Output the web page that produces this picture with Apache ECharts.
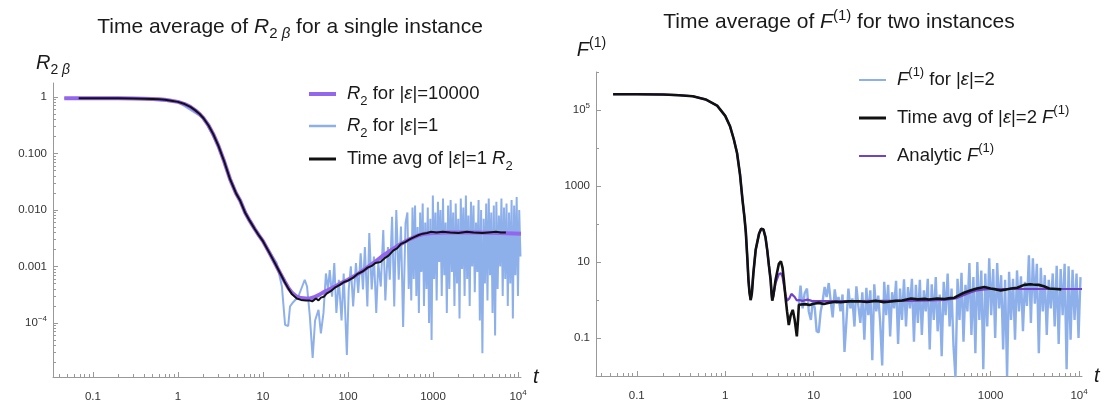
<!DOCTYPE html>
<html><head><meta charset="utf-8">
<script src="https://cdn.jsdelivr.net/npm/echarts@6/dist/echarts.min.js"></script>
<style>html,body{margin:0;padding:0;background:#fff}#c{width:1110px;height:406px}</style>
</head><body><div id="c"></div>
<script>
// ---------- tick labels ----------
const xMajorTicks = [0.1, 1, 10, 100, 1000, 10000];
const xMajorLabels = ['0.1', '1', '10', '100', '1000', '10{sup|4}'];
const leftYMajorTicks = [0.0001, 0.001, 0.01, 0.1, 1];
const leftYMajorLabels = ['10{sup|−4}', '0.001', '0.010', '0.100', '1'];
const rightYMajorTicks = [0.1, 10, 1000, 100000];
const rightYMajorLabels = ['0.1', '10', '1000', '10{sup|5}'];
const rightYMinorTicks = [1, 100, 10000, 1000000];

// ---------- left panel: R2 ----------
const r2Eps10000 = [[0.046,0.95],[0.1,0.95],[0.2,0.947],[0.3,0.942],[0.4,0.935],[0.5,0.925],[0.6,0.91],[0.7,0.89],[0.8,0.87],[1.0,0.82],[1.2,0.75],[1.4,0.67],[1.6,0.58],[1.8,0.5],[2.0,0.42],[2.3,0.31],[2.6,0.22],[3.0,0.135],[3.5,0.072],[4.1,0.035],[4.8,0.02],[5.4,0.0145],[6.2,0.0088],[7.0,0.0064],[8.0,0.0046],[9.0,0.0035],[10,0.0028],[12,0.0017],[14,0.0011],[16,0.00075],[18,0.00054],[20,0.00041],[22,0.00034],[25,0.00029],[28,0.000275],[32,0.00027],[36,0.00027],[40,0.000285],[45,0.00031],[50,0.00034],[60,0.00039],[70,0.00044],[80,0.00049],[100,0.00058],[130,0.00073],[160,0.0009],[200,0.00115],[250,0.0015],[300,0.0018],[400,0.0024],[500,0.0029],[600,0.0033],[700,0.0036],[800,0.0038],[1000,0.0039],[1500,0.004],[3000,0.004],[6000,0.0039],[10840,0.0038]];

const r2Eps1 = [[0.046,0.95],[0.3,0.942],[1.0,0.82],[2.0,0.42],[3.0,0.135],[4.1,0.035],[5.4,0.0145],[7.0,0.0064],[9.0,0.0035],[11,0.0022],[12.6,0.0016],[14.5,0.00115],[16.7,0.00044],[18.2,0.000092],[19.8,0.000088],[20.8,0.000195],[22.5,0.00023],[26,0.00029],[31,0.00058],[33,0.00044],[35.6,0.00013],[38.4,0.000024],[41,0.00011],[45,0.00017],[48,0.000065],[51.5,0.00015],[55,0.00075],[58.2,0.00039],[61,0.00086],[65,0.00029],[69,0.00115],[73,0.00015],[78,0.00058],[84,0.00011],[89,0.00075],[97,0.000027],[102,0.00039],[108,0.001],[115,0.000195],[124,0.00115],[132,0.00034],[141,0.0017],[150,0.00039],[158,0.0022],[169,0.000195],[178,0.0039],[190,0.00039],[202,0.0015],[215,0.00015],[227,0.00115],[243,0.00044],[260,0.0044],[275,0.00025],[295,0.0022],[310,0.00058],[330,0.0076],[350,0.000195],[370,0.01],[395,0.00058],[420,0.0051],[445,0.000085],[475,0.0058],
[500,0.009],[518,0.0004],[536,0.003],[555,0.00025],[574,0.011],[594,0.0006],[615,0.012],[637,0.0003],[659,0.005],[682,0.00015],[706,0.009],[731,0.0008],[756,0.013],[783,0.0002],[810,0.006],[839,0.0004],[868,0.011],[898,0.0001],[930,0.007],[962,0.00005],[996,0.018],[1031,0.0006],[1067,0.009],[1104,0.00025],[1143,0.014],[1183,0.0012],[1224,0.01],[1267,0.0003],[1311,0.016],[1357,0.0007],[1405,0.006],[1454,0.00015],[1505,0.012],[1557,0.0004],[1612,0.015],[1668,0.0008],[1727,0.009],[1787,0.0002],[1850,0.013],[1914,0.0005],[1981,0.007],[2051,0.00012],[2122,0.016],[2197,0.0009],[2274,0.011],[2353,0.0003],[2436,0.018],[2521,0.0006],[2609,0.008],[2700,0.0002],[2795,0.014],[2893,0.001],[2994,0.012],[3099,0.00035],[3207,0.006],[3319,0.0008],[3436,0.015],[3556,0.00011],[3680,0.01],[3809,0.000029],[3942,0.007],[4080,0.0005],[4223,0.013],[4371,0.00025],[4524,0.016],[4682,0.0007],[4846,0.009],[5016,0.00015],[5191,0.012],[5373,0.00006],[5561,0.014],[5755,0.0004],[5957,0.008],[6165,0.001],[6381,0.016],[6604,0.0003],[6835,0.011],[7074,0.0006],[7322,0.013],[7578,0.0002],[7843,0.009],[8118,0.0005],[8402,0.015],[8696,0.00012],[9000,0.012],[9315,0.0007],[9641,0.017],[9979,0.0003],[10328,0.01],[10690,0.0015]];

const r2TimeAvg = [[0.068,0.95],[0.1,0.95],[0.2,0.947],[0.3,0.942],[0.4,0.935],[0.5,0.925],[0.6,0.91],[0.7,0.89],[0.8,0.87],[1.0,0.82],[1.2,0.75],[1.4,0.67],[1.6,0.58],[1.8,0.5],[2.0,0.42],[2.3,0.31],[2.6,0.22],[3.0,0.135],[3.5,0.072],[4.1,0.035],[4.8,0.02],[5.4,0.0145],[6.2,0.0088],[7.0,0.0064],[8.0,0.0046],[9.0,0.0035],[10,0.0028],[12,0.0017],[14,0.0011],[16,0.00075],[18,0.00053],[20,0.0004],[22,0.00032],[25,0.00027],[28,0.000255],[32,0.00025],[35,0.00025],[38,0.00024],[42,0.00027],[45,0.00025],[48,0.00028],[52,0.00029],[56,0.00033],[62,0.00036],[70,0.00042],[80,0.00047],[90,0.00053],[100,0.00056],[115,0.00063],[130,0.00074],[150,0.00082],[170,0.00095],[190,0.00102],[210,0.00115],[240,0.0012],[270,0.0014],[300,0.00155],[340,0.0019],[380,0.0021],[420,0.0025],[470,0.0027],[530,0.003],[600,0.0033],[680,0.0036],[760,0.0038],[850,0.0039],[950,0.0041],[1100,0.004],[1300,0.0041],[1600,0.0040],[2000,0.0039],[2500,0.0041],[3000,0.004],[3800,0.0039],[4500,0.004],[5500,0.0041],[6300,0.004],[7200,0.004]];

// ---------- right panel: F(1) ----------
const fEps2 = [[6.8,0.75],[7.1,2.4],[7.5,0.6],[7.9,1.5],[8.4,2.0],[8.8,0.5],[9.3,0.3],[9.8,1.0],[10.3,0.6],[10.8,0.15],[11.4,0.14],[12,0.5],[12.6,0.9],[13.3,2.2],[14,1.2],[14.8,2.8],[15.6,0.9],[16.4,0.35],[17.3,1.9],[18.2,0.8],[19.1,1.2],[20.1,0.5],[21.2,1.4],[22.3,0.043],[23.5,0.3],[24.7,2.0],[26,0.6],[27.4,1.1],[28.9,0.2],[30.4,2.3],[32,0.7],[33.7,0.25],[35.5,1.6],[37.4,0.09],[39.4,2.1],[41.5,0.4],[43.7,1.8],[46,0.026],[48.4,2.6],[51,0.5],[53.7,1.3],[56.5,0.25],[59.5,0.019],[62.7,3.0],[66,0.4],[69.5,2.5],[73.2,0.11],[77,1.6],[81.1,0.6],[85.4,3.2],[90,0.07],[94.7,2.0],[99.7,0.3],[105,3.5],[110.6,0.2],[116.4,2.2],[122.6,0.6],[129,3.6],[136,0.08],[143,2.5],[150.6,0.25],[158.6,3.4],[167,0.12],[176,1.8],[185,0.5],[195,3.6],[205,0.05],[216,2.6],[228,0.3],[240,4.0],[252,0.15],[266,1.4],[280,0.033],[295,3.0],[310,0.4],[327,5.0],[344,0.2],[362,2.0],[381,0.06],[401,0.009],[423,3.6],[445,0.3],[469,5.2],[494,0.08],[520,2.5],[547,0.5],[576,9.4],[607,0.12],[639,4.0],[673,0.04],[708,10],[746,0.3],[785,6.0],[827,0.015],[871,5.0],[917,0.2],[965,12.6],[1016,0.4],[1070,6.5],[1127,0.1],[1187,9.4],[1250,0.6],[1316,4.5],[1386,0.05],[1459,3.4],[1536,0.01],[1618,5.5],[1703,0.3],[1794,3.6],[1889,0.09],[1989,6.0],[2094,0.5],[2205,4.2],[2322,0.15],[2445,3.0],[2575,0.7],[2711,15],[2855,0.25],[3006,12.6],[3166,0.8],[3334,9.0],[3510,0.04],[3696,7.0],[3892,0.5],[4098,4.5],[4316,0.12],[4545,3.4],[4786,0.6],[5039,5.0],[5306,0.2],[5588,8.0],[5884,0.07],[6196,6.5],[6524,0.4],[6870,9.0],[7234,0.015],[7618,7.7],[8022,0.09],[8447,6.2],[8895,0.3],[9366,5.0],[9863,0.1],[10385,4.0]];

const fTimeAvg = [[0.054,2.6e5],[0.1,2.6e5],[0.2,2.55e5],[0.3,2.45e5],[0.43,2.3e5],[0.6,1.9e5],[0.81,1.3e5],[1.0,7e4],[1.13,3.8e4],[1.25,1.7e4],[1.36,7400],[1.47,2000],[1.57,420],[1.65,150],[1.71,60],[1.78,12],[1.83,3.4],[1.88,1.6],[1.94,1.0],[2.0,1.5],[2.08,5],[2.21,21],[2.41,55],[2.55,75],[2.7,72],[2.85,45],[2.99,20],[3.12,8],[3.26,3.4],[3.34,1.5],[3.4,0.96],[3.5,1.3],[3.71,3.4],[4.04,9],[4.26,10.5],[4.45,7],[4.6,3.4],[4.8,1.2],[5.0,0.5],[5.23,0.22],[5.5,0.4],[5.8,0.55],[6.1,0.3],[6.45,0.11],[6.65,0.3],[6.8,0.75],[8,0.78],[9,0.74],[10,0.8],[11.4,0.84],[13,0.78],[15,0.85],[17.7,0.9],[20,0.87],[25,0.92],[32,0.93],[40,0.89],[50,0.95],[54,0.93],[62,0.88],[70,0.9],[85,0.95],[100,0.97],[126,1.1],[150,1.04],[180,1.07],[200,1.03],[250,1.1],[300,1.06],[350,1.12],[390,1.15],[430,1.3],[500,1.55],[600,1.8],[700,2.0],[850,2.2],[1000,2.0],[1150,1.9],[1300,1.78],[1500,1.9],[1700,2.0],[2000,2.1],[2400,2.5],[2800,2.6],[3000,2.55],[3500,2.5],[4000,2.3],[4600,2.0],[5500,1.95],[6300,1.9]];

const fAnalytic = [[0.054,2.6e5],[0.1,2.6e5],[0.2,2.55e5],[0.3,2.45e5],[0.43,2.3e5],[0.6,1.9e5],[0.81,1.3e5],[1.0,7e4],[1.13,3.8e4],[1.25,1.7e4],[1.36,7400],[1.47,2000],[1.57,420],[1.65,150],[1.71,60],[1.78,12],[1.83,3.4],[1.88,1.6],[1.94,1.0],[2.0,1.5],[2.08,5],[2.21,21],[2.41,55],[2.55,75],[2.7,72],[2.85,45],[2.99,20],[3.12,8],[3.26,3.4],[3.34,1.5],[3.4,1.0],[3.5,1.3],[3.71,2.8],[4.04,4.8],[4.26,5.1],[4.45,4.0],[4.6,2.5],[4.8,1.4],[5.0,0.95],[5.3,1.1],[5.6,1.45],[5.8,1.5],[6.1,1.2],[6.45,0.97],[6.9,1.0],[7.5,0.95],[8.5,1.02],[9.5,0.95],[11,0.93],[15,0.94],[30,0.94],[60,0.95],[100,0.95],[200,0.97],[300,1.0],[400,1.1],[500,1.35],[600,1.6],[700,1.8],[850,1.9],[1000,1.95],[2000,1.95],[5000,1.95],[10800,1.95]];

// ---------- rendering ----------
const FONT = '"Liberation Sans", Arial, sans-serif';
const TXT = '#1a1a1a';
const AXIS = '#999999';
const PURPLE_L = '#9466ee';
const PURPLE_R = '#7142c8';
const BLUE = '#8eb0ea';
const BLACK = '#111111';

function logMinorTicks(lo, hi) {
  const out = [];
  for (let e = Math.floor(Math.log10(lo)); e <= Math.ceil(Math.log10(hi)); e++) {
    for (let m = 2; m <= 9; m++) {
      const v = +(m * Math.pow(10, e)).toPrecision(6);
      if (v > lo && v < hi) out.push(v);
    }
  }
  return out;
}
function labelFor(ticks, labels) {
  return function (v) {
    const lv = Math.log10(v);
    for (let i = 0; i < ticks.length; i++) {
      if (Math.abs(lv - Math.log10(ticks[i])) < 1e-6) return labels[i];
    }
    return '';
  };
}
const richBase = (size) => ({
  i: {fontStyle: 'italic', fontSize: size, fontFamily: FONT, color: TXT},
  sub: {fontSize: Math.round(size * 0.7), fontFamily: FONT, color: TXT, verticalAlign: 'bottom', lineHeight: 14},
  isub: {fontSize: Math.round(size * 0.7), fontStyle: 'italic', fontFamily: FONT, color: TXT, verticalAlign: 'bottom', lineHeight: 14},
  sup: {fontSize: Math.round(size * 0.7), fontFamily: FONT, color: TXT, verticalAlign: 'top', lineHeight: 16},
  gap: {width: 6, fontSize: size}
});
const bigText = (size) => ({fontSize: size, fontWeight: 'normal', fontFamily: FONT, color: TXT, lineHeight: 28, rich: richBase(size)});

const LX = [0.0339, 10840], LY = [1.1e-5, 1.77];
const RX = [0.0346, 10800], RY = [0.01, 1e6];

const tickLabel = {fontSize: 11.5, fontFamily: FONT, color: '#333', lineHeight: 16,
  rich: {sup: {fontSize: 8, fontFamily: FONT, color: '#333', verticalAlign: 'top', lineHeight: 9}}};

function mainX(grid, range) {
  return {type: 'log', logBase: 10, gridIndex: grid, min: range[0], max: range[1], position: 'bottom',
    axisLine: {show: true, lineStyle: {color: AXIS, width: 1}},
    axisTick: {show: true, inside: true, length: 5, lineStyle: {color: AXIS}, customValues: xMajorTicks},
    axisLabel: Object.assign({customValues: xMajorTicks, margin: 12, formatter: labelFor(xMajorTicks, xMajorLabels)}, tickLabel),
    splitLine: {show: false},
    name: '{i|t}', nameLocation: 'end', nameGap: 12,
    nameTextStyle: {fontSize: 20, fontFamily: FONT, color: TXT, rich: {i: {fontStyle: 'italic', fontSize: 20, fontFamily: FONT, color: TXT}}}};
}
function minorAxis(type, grid, range, ticks, pos) {
  return {type: 'log', logBase: 10, gridIndex: grid, min: range[0], max: range[1], position: pos,
    axisLine: {show: false}, axisLabel: {show: false}, splitLine: {show: false},
    axisTick: {show: true, inside: true, length: 3, lineStyle: {color: AXIS}, customValues: ticks}};
}
function mainY(grid, range, ticks, labels, name, namePad, gap) {
  return {type: 'log', logBase: 10, gridIndex: grid, min: range[0], max: range[1], position: 'left',
    axisLine: {show: true, lineStyle: {color: AXIS, width: 1}},
    axisTick: {show: true, inside: true, length: 5, lineStyle: {color: AXIS}, customValues: ticks},
    axisLabel: Object.assign({customValues: ticks, margin: 6, formatter: labelFor(ticks, labels)}, tickLabel),
    splitLine: {show: false},
    name: name, nameLocation: 'end', nameGap: gap,
    nameTextStyle: Object.assign({align: 'center', padding: namePad}, bigText(20))};
}

const names = {
  L1: 'R2 for |ε|=10000', L2: 'R2 for |ε|=1', L3: 'Time avg of |ε|=1 R2',
  R1: 'F(1) for |ε|=2', R2: 'Time avg of |ε|=2 F(1)', R3: 'Analytic F(1)'
};
const richNames = {};
richNames[names.L1] = '{i|R}{sub|2} for |{i|ε}|=10000';
richNames[names.L2] = '{i|R}{sub|2} for |{i|ε}|=1';
richNames[names.L3] = 'Time avg of |{i|ε}|=1 {i|R}{sub|2}';
richNames[names.R1] = '{i|F}{sup|(1)} for |{i|ε}|=2';
richNames[names.R2] = 'Time avg of |{i|ε}|=2 {i|F}{sup|(1)}';
richNames[names.R3] = 'Analytic {i|F}{sup|(1)}';

function legend(name, left, cy, h) {
  return {data: [{name: name}], left: left, top: cy - 14, itemWidth: 27, itemHeight: h, icon: 'rect',
    selectedMode: false, padding: 0, itemGap: 0,
    formatter: (n) => '{gap| }' + richNames[n], textStyle: bigText(18.5)};
}
function line(name, data, xi, yi, color, width, z) {
  return {type: 'line', name: name, data: data, xAxisIndex: xi, yAxisIndex: yi, showSymbol: false, symbol: 'none',
    color: color, itemStyle: {color: color}, lineStyle: {color: color, width: width}, z: z, silent: true, clip: true};
}

const chart = echarts.init(document.getElementById('c'), null, {renderer: 'canvas'});
chart.setOption({
  animation: false,
  backgroundColor: '#ffffff',
  title: [
    {text: 'Time average of {i|R}{sub|2 }{isub|β} for a single instance', left: 290, top: 13, textAlign: 'center', padding: 0, textStyle: bigText(21)},
    {text: 'Time average of {i|F}{sup|(1)} for two instances', left: 839, top: 8, textAlign: 'center', padding: 0, textStyle: bigText(21)}
  ],
  grid: [
    {left: 53, top: 83, width: 468, height: 294, containLabel: false},
    {left: 596, top: 72, width: 486, height: 304, containLabel: false}
  ],
  xAxis: [
    mainX(0, LX), minorAxis('x', 0, LX, logMinorTicks(LX[0], LX[1]), 'bottom'),
    mainX(1, RX), minorAxis('x', 1, RX, logMinorTicks(RX[0], RX[1]), 'bottom')
  ],
  yAxis: [
    mainY(0, LY, leftYMajorTicks, leftYMajorLabels, '{i|R}{sub|2 }{isub|β}', [0, 0, 0, 0], 6),
    minorAxis('y', 0, LY, logMinorTicks(LY[0], LY[1]), 'left'),
    mainY(1, RY, rightYMajorTicks, rightYMajorLabels, '{i|F}{sup|(1)}', [0, 9, 0, 0], 8),
    minorAxis('y', 1, RY, rightYMinorTicks, 'left')
  ],
  legend: [
    legend(names.L1, 309, 94, 4), legend(names.L2, 309, 126, 2.5), legend(names.L3, 309, 159, 3),
    legend(names.R1, 859, 80, 2), legend(names.R2, 859, 118, 3), legend(names.R3, 859, 156, 2)
  ],
  series: [
    line(names.L2, r2Eps1, 0, 0, BLUE, 2, 1),
    line(names.L1, r2Eps10000, 0, 0, PURPLE_L, 4, 2),
    line(names.L3, r2TimeAvg, 0, 0, BLACK, 2, 3),
    line(names.R1, fEps2, 2, 2, BLUE, 2.4, 1),
    line(names.R3, fAnalytic, 2, 2, PURPLE_R, 2.2, 2),
    line(names.R2, fTimeAvg, 2, 2, BLACK, 2.6, 3)
  ]
});
</script></body></html>
